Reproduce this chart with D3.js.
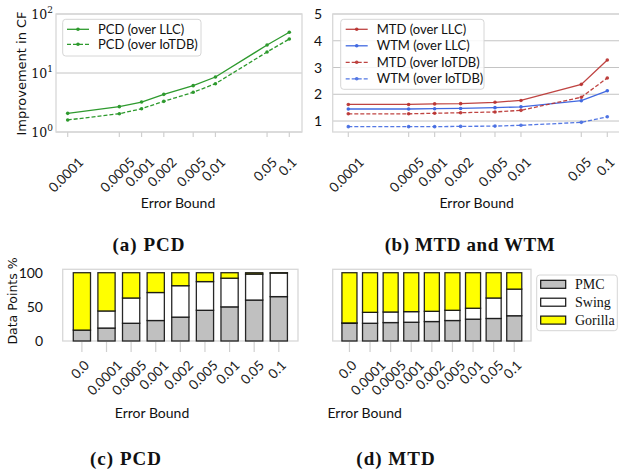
<!DOCTYPE html>
<html><head><meta charset="utf-8">
<script src="https://cdn.jsdelivr.net/npm/d3@7"></script>
<style>body{margin:0;background:#fff}svg{display:block}</style>
</head><body>
<script>
// ---------- data ----------
const errorBounds = [0.0001, 0.0005, 0.001, 0.002, 0.005, 0.01, 0.05, 0.1];
const errorBoundLabels = ["0.0001", "0.0005", "0.001", "0.002", "0.005", "0.01", "0.05", "0.1"];
const pcdOverLLC   = [2.07, 2.69, 3.22, 4.35, 6.1, 8.55, 29.8, 49];
const pcdOverIoTDB = [1.6, 2.04, 2.48, 3.31, 4.71, 6.59, 22.7, 37.7];
const mtdOverLLC   = [1.62, 1.62, 1.64, 1.65, 1.70, 1.77, 2.37, 3.28];
const wtmOverLLC   = [1.45, 1.45, 1.46, 1.47, 1.50, 1.53, 1.76, 2.13];
const mtdOverIoTDB = [1.27, 1.27, 1.29, 1.31, 1.34, 1.40, 1.89, 2.61];
const wtmOverIoTDB = [0.79, 0.79, 0.79, 0.80, 0.81, 0.84, 0.95, 1.16];
const logTicks = [1, 10, 100];
const linTicks = [1, 2, 3, 4, 5];

const barCategories = ["0.0", "0.0001", "0.0005", "0.001", "0.002", "0.005", "0.01", "0.05", "0.1"];
const stackKeys = ["PMC", "Swing", "Gorilla"];
const pcdPMC     = [16, 19, 26, 30, 35, 45, 50, 60, 65];
const pcdSwing   = [0, 25, 37, 41, 46, 42, 42, 38, 34.5];
const pcdGorilla = [84, 56, 37, 29, 19, 13, 8, 2, 0.5];
const mtdPMC     = [26, 26, 27, 27.5, 28.5, 30, 32, 33, 37];
const mtdSwing   = [0.5, 16, 15.5, 15.5, 15, 15, 16, 30, 39];
const mtdGorilla = [73.5, 58, 57.5, 57, 56.5, 55, 52, 37, 24];
const pctTicks = [0, 50, 100];

// ---------- style ----------
const SANS = "Lato, 'Open Sans', sans-serif";
const DV = "'DejaVu Sans', sans-serif";
const SERIF = "'Liberation Serif', 'DejaVu Serif', serif";
const GREEN = "#2e9a2e", RED = "#b8302e", BLUE = "#4169e1";
const FRAME = "#d8d8d8", GRID = "#c4c4c4", TICK = "#d0d0d0";
const stackColors = {PMC: "#c0c0c0", Swing: "#ffffff", Gorilla: "#ffff00"};

const svg = d3.select("body").append("svg").attr("width", 619).attr("height", 473);

function frame(f) {
  svg.append("rect").attr("x", f.x0).attr("y", f.y0).attr("width", f.x1 - f.x0).attr("height", f.y1 - f.y0)
    .attr("fill", "none").attr("stroke", FRAME).attr("stroke-width", 1.3);
}
function rotLabels(positions, labels, top, fs) {
  labels.forEach((t, i) => {
    const g = svg.append("g");
    const tx = g.append("text").text(t).attr("font-family", SANS).attr("font-size", fs)
      .attr("text-anchor", "middle").attr("dominant-baseline", "central").attr("fill", "#222");
    const w = tx.node().getComputedTextLength();
    const h = fs * 1.0;
    const cy = top + 0.7071 * (w + h) / 2;
    g.attr("transform", `translate(${positions[i] - 2},${cy}) rotate(-45)`);
  });
}
function xTicks(positions, yb, len) {
  positions.forEach(p => svg.append("line").attr("x1", p).attr("x2", p).attr("y1", yb).attr("y2", yb + len)
    .attr("stroke", TICK).attr("stroke-width", 1.2));
}
function label(x, y, t, opts = {}) {
  return svg.append("text").attr("x", x).attr("y", y).text(t)
    .attr("font-family", opts.ff || SANS).attr("font-size", opts.fs || 14)
    .attr("font-weight", opts.fw || "normal").attr("text-anchor", opts.anchor || "middle")
    .attr("letter-spacing", opts.ls || 0).attr("fill", opts.fill || "#111");
}
function series(xs, ys, vals, color, dashed, opacity = 1) {
  const pts = errorBounds.map((e, i) => [xs(e), ys(vals[i])]);
  svg.append("path").attr("d", d3.line()(pts)).attr("fill", "none").attr("stroke", color)
    .attr("stroke-width", 1.3).attr("stroke-dasharray", dashed ? "4,2" : null).attr("opacity", opacity);
  pts.forEach(p => svg.append("circle").attr("cx", p[0]).attr("cy", p[1]).attr("r", 1.8).attr("fill", color).attr("opacity", opacity));
}
function legendBox(x, y, w, h) {
  svg.append("rect").attr("x", x).attr("y", y).attr("width", w).attr("height", h).attr("rx", 3)
    .attr("fill", "#fff").attr("fill-opacity", 0.85).attr("stroke", "#d6d6d6").attr("stroke-width", 1);
}
function legendLine(x, y, color, dashed, text, opacity = 1) {
  svg.append("line").attr("x1", x).attr("x2", x + 22).attr("y1", y).attr("y2", y).attr("stroke", color)
    .attr("stroke-width", 1.3).attr("stroke-dasharray", dashed ? "4,2" : null).attr("opacity", opacity);
  svg.append("circle").attr("cx", x + 11).attr("cy", y).attr("r", 1.8).attr("fill", color).attr("opacity", opacity);
  label(x + 31, y + 4.5, text, {fs: 13, anchor: "start"});
}

// ---------- (a) PCD ----------
const fA = {x0: 56, x1: 302, y0: 14, y1: 132};
const xA = d3.scaleLog().domain([1e-4, 0.1]).range([67.7, 289.3]);
const yA = d3.scaleLog().domain([1, 100]).range([fA.y1, fA.y0]);
logTicks.forEach(t => {
  svg.append("line").attr("x1", fA.x0).attr("x2", fA.x1).attr("y1", yA(t)).attr("y2", yA(t))
    .attr("stroke", GRID).attr("stroke-width", 1);
  const tx = svg.append("text").attr("x", 53).attr("y", yA(t) + 5).attr("text-anchor", "end")
    .attr("font-family", "'DejaVu Serif', serif").attr("font-size", 12.5).attr("fill", "#111");
  tx.append("tspan").text("10");
  tx.append("tspan").text(String(Math.round(Math.log10(t)))).attr("font-size", 9).attr("dy", -6);
});
frame(fA);
xTicks(errorBounds.map(xA), fA.y1, 5);
rotLabels(errorBounds.map(xA), errorBoundLabels, 155, 13.5);
series(xA, yA, pcdOverLLC, GREEN, false);
series(xA, yA, pcdOverIoTDB, GREEN, true);
legendBox(62.7, 19.3, 138.3, 36.7);
legendLine(67, 29.3, GREEN, false, "PCD (over LLC)");
legendLine(67, 44.3, GREEN, true, "PCD (over IoTDB)");
label(21, 73.5, "Improvement in CF", {ff: DV, fs: 13}).attr("transform", "rotate(-90,21,73.5)").attr("dominant-baseline", "central");
label(178, 208, "Error Bound", {fs: 14});
label(149, 251, "(a) PCD", {ff: SERIF, fs: 19, fw: "bold", ls: 1});

// ---------- (b) MTD and WTM ----------
const fB = {x0: 332.7, x1: 621, y0: 14, y1: 132};
const xB = d3.scaleLog().domain([1e-4, 0.1]).range([348.3, 607.3]);
const yB = d3.scaleLinear().domain([0.59, 5]).range([fB.y1, fB.y0]);
linTicks.forEach(t => {
  svg.append("line").attr("x1", fB.x0).attr("x2", fB.x1).attr("y1", yB(t)).attr("y2", yB(t))
    .attr("stroke", GRID).attr("stroke-width", 1);
  label(322, yB(t) + 5, String(t), {fs: 14, anchor: "end"});
});
frame(fB);
xTicks(errorBounds.map(xB), fB.y1, 5);
rotLabels(errorBounds.map(xB), errorBoundLabels, 155, 13.5);
series(xB, yB, mtdOverLLC, RED, false, 0.9);
series(xB, yB, wtmOverLLC, BLUE, false);
series(xB, yB, mtdOverIoTDB, RED, true, 0.9);
series(xB, yB, wtmOverIoTDB, BLUE, true, 0.9);
legendBox(340.7, 19.3, 143.3, 70);
legendLine(345.7, 29.3, RED, false, "MTD (over LLC)", 0.9);
legendLine(345.7, 45.8, BLUE, false, "WTM (over LLC)");
legendLine(345.7, 62.3, RED, true, "MTD (over IoTDB)", 0.9);
legendLine(345.7, 78.8, BLUE, true, "WTM (over IoTDB)", 0.9);
label(476.7, 208, "Error Bound", {fs: 14});
label(470, 251, "(b) MTD and WTM", {ff: SERIF, fs: 19, fw: "bold", ls: 0.6});

// ---------- stacked bars ----------
function stacked(f, pad, vals) {
  const x = d3.scaleBand().domain(barCategories).range([f.x0, f.x1]).paddingInner(pad.inner).paddingOuter(pad.outer);
  const y = d3.scaleLinear().domain([0, 105]).range([f.y1, f.y0]);
  frame(f);
  const rows = barCategories.map((c, i) => ({cat: c, PMC: vals[0][i], Swing: vals[1][i], Gorilla: vals[2][i]}));
  const stack = d3.stack().keys(stackKeys)(rows);
  stack.forEach(layer => {
    layer.forEach(d => {
      svg.append("rect").attr("x", x(d.data.cat)).attr("y", y(d[1])).attr("width", x.bandwidth())
        .attr("height", Math.max(0, y(d[0]) - y(d[1]))).attr("fill", stackColors[layer.key])
        .attr("stroke", "#111").attr("stroke-width", 1.3).attr("stroke-opacity", 0.9);
    });
  });
  const centers = barCategories.map(c => x(c) + x.bandwidth() / 2);
  xTicks(centers, f.y1 + 1, 10);
  rotLabels(centers, barCategories, 358, 13.5);
  return y;
}
const fC = {x0: 62.7, x1: 298, y0: 269.3, y1: 341};
const yC = stacked(fC, {inner: 0.3, outer: 0.43}, [pcdPMC, pcdSwing, pcdGorilla]);
pctTicks.forEach(t => label(43, yC(t) + 5, String(t), {fs: 14, anchor: "end"}));
label(12, 301, "Data Points %", {ff: DV, fs: 12.5}).attr("transform", "rotate(-90,12,301)").attr("dominant-baseline", "central");
label(152, 418, "Error Bound", {fs: 14});
label(126, 465, "(c) PCD", {ff: SERIF, fs: 19, fw: "bold", ls: 1});

const fD = {x0: 332.7, x1: 531, y0: 269.3, y1: 341};
stacked(fD, {inner: 0.27, outer: 0.448}, [mtdPMC, mtdSwing, mtdGorilla]);
label(364.7, 418, "Error Bound", {fs: 14});
label(396, 465, "(d) MTD", {ff: SERIF, fs: 19, fw: "bold", ls: 1});

// legend (d)
legendBox(536.7, 275, 80.6, 55.7);
stackKeys.forEach((k, i) => {
  const cy = 284.3 + i * 17.9;
  svg.append("rect").attr("x", 540.7).attr("y", cy - 4).attr("width", 25).attr("height", 8)
    .attr("fill", stackColors[k]).attr("stroke", "#111").attr("stroke-width", 1.2);
  label(575, cy + 4.5, k, {ff: SERIF, fs: 14, anchor: "start"});
});
</script>
</body></html>
